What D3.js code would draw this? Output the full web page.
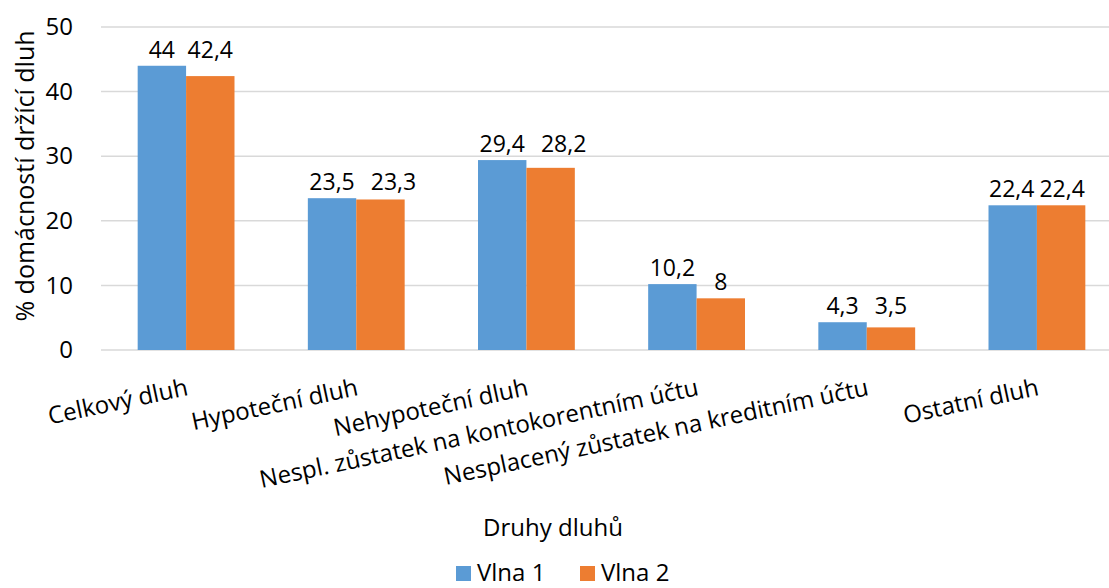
<!DOCTYPE html>
<html>
<head>
<meta charset="utf-8">
<script src="https://cdn.jsdelivr.net/npm/d3@7"></script>
<style>
  body { margin: 0; background: #fff; }
  text { font-family: "Open Sans", Lato, sans-serif; fill: #000; }
</style>
</head>
<body>
<script>
var svgWidth = 1109;
var svgHeight = 588;
var fontSize = 24;

var categories = ["Celkový dluh", "Hypoteční dluh", "Nehypoteční dluh",
    "Nespl. zůstatek na kontokorentním účtu", "Nesplacený zůstatek na kreditním účtu", "Ostatní dluh"];
var seriesNames = ["Vlna 1", "Vlna 2"];
var vlna1 = [44, 23.5, 29.4, 10.2, 4.3, 22.4];
var vlna2 = [42.4, 23.3, 28.2, 8, 3.5, 22.4];
var yTicks = [0, 10, 20, 30, 40, 50];
var colors = ["#5B9BD5", "#ED7D31"];

// plot area (right edge runs past the picture, as in the original crop)
var plotLeft = 101, plotRight = 1122, plotTop = 27, plotBottom = 350;

var rows = categories.map((c, i) => ({ cat: c, values: [vlna1[i], vlna2[i]] }));

var svg = d3.select("body")
    .append("svg")
    .attr("width", svgWidth)
    .attr("height", svgHeight);

var y = d3.scaleLinear()
    .domain([0, 50])
    .range([plotBottom, plotTop]);

var x0 = d3.scaleBand()
    .domain(categories)
    .range([plotLeft, plotRight])
    .paddingInner(0.431)
    .paddingOuter(0.2155);

var x1 = d3.scaleBand()
    .domain([0, 1])
    .range([0, x0.bandwidth()]);

// gridlines
svg.append("g")
    .selectAll("line")
    .data(yTicks).enter()
    .append("line")
    .attr("x1", plotLeft)
    .attr("x2", plotRight)
    .attr("y1", d => y(d))
    .attr("y2", d => y(d))
    .attr("stroke", "#D9D9D9")
    .attr("stroke-width", 1.5);

// y axis labels
var yAxis = svg.append("g")
    .attr("transform", "translate(" + plotLeft + ",0)")
    .call(d3.axisLeft(y).tickValues(yTicks).tickSize(0).tickPadding(28));
yAxis.select(".domain").remove();
yAxis.selectAll("text")
    .attr("font-size", fontSize)
    .attr("font-family", "'Open Sans', Lato, sans-serif")
    .attr("fill", "#000");

// bars
var groups = svg.selectAll(".grp")
    .data(rows).enter()
    .append("g")
    .attr("transform", d => "translate(" + x0(d.cat) + ",0)");

groups.selectAll("rect")
    .data(d => d.values).enter()
    .append("rect")
    .attr("x", (d, i) => x1(i))
    .attr("y", d => y(d))
    .attr("width", x1.bandwidth())
    .attr("height", d => y(0) - y(d))
    .attr("fill", (d, i) => colors[i]);

// data labels, the second one lifted / nudged when it crowds the first (like Excel does)
groups.each(function (row) {
    var g = d3.select(this);
    var labels = row.values.map((v, i) => g.append("text")
        .attr("x", x1(i) + x1.bandwidth() / 2)
        .attr("y", y(v) - 8)
        .attr("text-anchor", "middle")
        .attr("font-size", 23)
        .text(String(v).replace(".", ",")));
    var y0 = y(row.values[0]) - 8, y1v = y(row.values[1]) - 8;
    if (Math.abs(y1v - y0) < 12) {
        labels[1].attr("y", Math.min(y0, y1v));
        labels[0].attr("y", Math.min(y0, y1v));
        var b0 = labels[0].node().getBBox(), b1 = labels[1].node().getBBox();
        var gap = b1.x - (b0.x + b0.width);
        if (row.values[0] !== row.values[1] && gap < 8) {
            labels[1].attr("x", +labels[1].attr("x") + (16 - gap));
        } else if (gap < 5) {
            // same value: just spread a little
            labels[0].attr("x", +labels[0].attr("x") - (5 - gap) / 2);
            labels[1].attr("x", +labels[1].attr("x") + (5 - gap) / 2);
        }
    }
});

// category labels
svg.selectAll(".cat")
    .data(categories).enter()
    .append("text")
    .attr("transform", d => "translate(" + (x0(d) + x0.bandwidth() / 2 + 3) + "," + (plotBottom + 45) + ") rotate(-12)")
    .attr("text-anchor", "end")
    .attr("font-size", fontSize)
    .text(d => d);

// axis titles
svg.append("text")
    .attr("transform", "translate(34,176) rotate(-90)")
    .attr("text-anchor", "middle")
    .attr("font-size", 25)
    .text("% domácností držící dluh");

svg.append("text")
    .attr("x", 553)
    .attr("y", 536)
    .attr("text-anchor", "middle")
    .attr("font-size", fontSize)
    .text("Druhy dluhů");

// legend
var legendX = [456, 580];
var legend = svg.selectAll(".leg")
    .data(seriesNames).enter()
    .append("g")
    .attr("transform", (d, i) => "translate(" + legendX[i] + ",566)");
legend.append("rect")
    .attr("width", 15)
    .attr("height", 15)
    .attr("fill", (d, i) => colors[i]);
legend.append("text")
    .attr("x", 21)
    .attr("y", 15)
    .attr("font-size", fontSize)
    .text(d => d);
</script>
</body>
</html>
